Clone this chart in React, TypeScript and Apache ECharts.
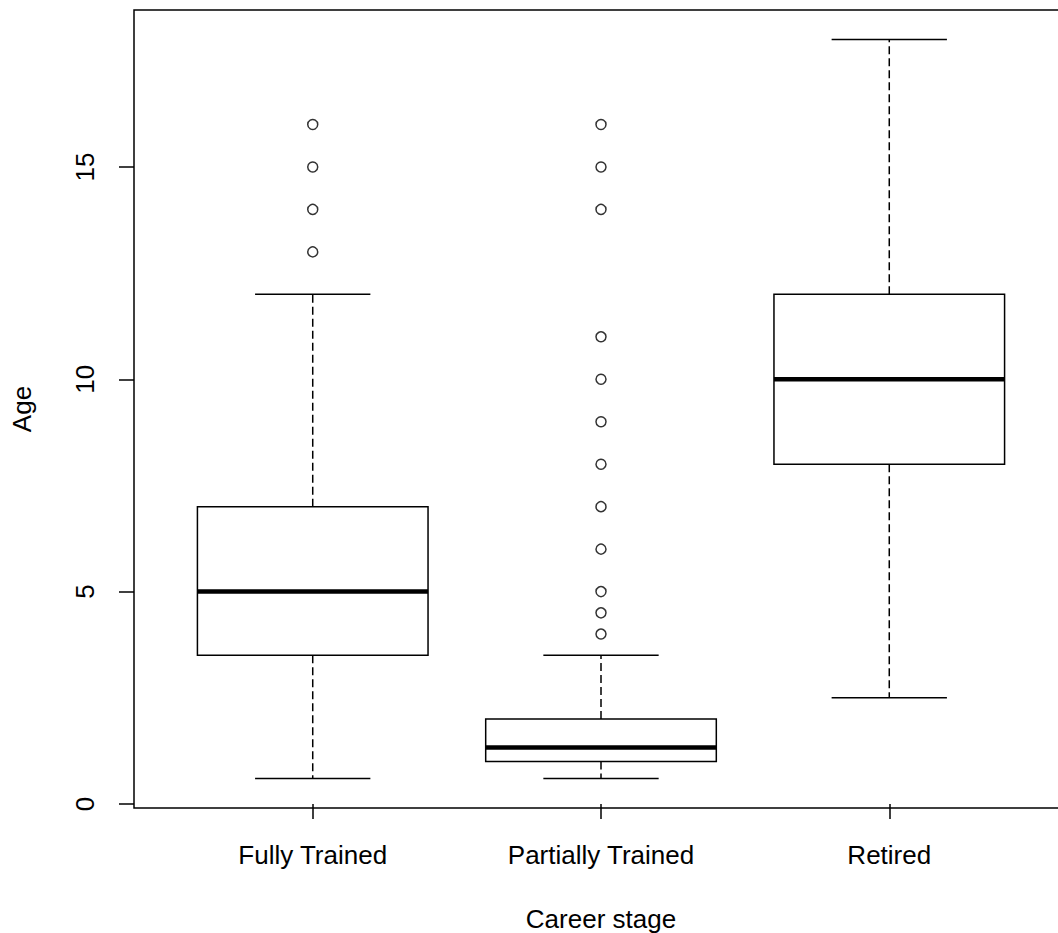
import React, { useEffect, useRef } from "react";
import * as echarts from "echarts";

const categories = ["Fully Trained", "Partially Trained", "Retired"];
// [lower whisker, Q1, median, Q3, upper whisker]
const fullyTrainedStats = [0.6, 3.5, 5, 7, 12];
const partiallyTrainedStats = [0.6, 1, 1.33, 2, 3.5];
const retiredStats = [2.5, 8, 10, 12, 18];
const fullyTrainedOutliers = [13, 14, 15, 16];
const partiallyTrainedOutliers = [4, 4.5, 5, 6, 7, 8, 9, 10, 11, 14, 15, 16];
const retiredOutliers: number[] = [];
const yTicks = [0, 5, 10, 15];

const FONT = "'Liberation Sans', Arial, sans-serif";

export default function App() {
  const ref = useRef<HTMLDivElement>(null);
  useEffect(() => {
    if (!ref.current) return;
    const chart = echarts.init(ref.current, null, { renderer: "svg" });
    const allStats = [fullyTrainedStats, partiallyTrainedStats, retiredStats];
    const allOutliers = [fullyTrainedOutliers, partiallyTrainedOutliers, retiredOutliers];
    const boxData = allStats.map((s, i) => [i + 1, ...s]);
    const outlierData: number[][] = [];
    allOutliers.forEach((arr, i) => arr.forEach((v) => outlierData.push([i + 1, v])));

    const lw = 1.5;
    const renderItem = (params: any, api: any) => {
      const x = api.value(0);
      const low = api.value(1);
      const q1 = api.value(2);
      const med = api.value(3);
      const q3 = api.value(4);
      const high = api.value(5);
      const hw = 0.4;
      const cw = 0.2;
      const tl = api.coord([x - hw, q3]);
      const br = api.coord([x + hw, q1]);
      const c = (xx: number, yy: number) => api.coord([xx, yy]);
      const line = (a: number[], b: number[], extra: any = {}) => ({
        type: "line",
        shape: { x1: a[0], y1: a[1], x2: b[0], y2: b[1] },
        style: { stroke: "#000", lineWidth: lw, ...extra },
      });
      return {
        type: "group",
        children: [
          line(c(x, q3), c(x, high), { lineDash: [8, 4] }),
          line(c(x, q1), c(x, low), { lineDash: [8, 4] }),
          line(c(x - cw, high), c(x + cw, high)),
          line(c(x - cw, low), c(x + cw, low)),
          {
            type: "rect",
            shape: { x: tl[0], y: tl[1], width: br[0] - tl[0], height: br[1] - tl[1] },
            style: { fill: "#fff", stroke: "#000", lineWidth: lw },
          },
          line(c(x - hw, med), c(x + hw, med), { lineWidth: 4.5 }),
        ],
      };
    };

    chart.setOption({
      animation: false,
      backgroundColor: "#fff",
      grid: {
        left: 134,
        width: 934,
        top: 10,
        height: 798,
        outerBoundsMode: "none",
        containLabel: false,
        show: true,
        borderColor: "#000",
        borderWidth: 1.5,
        backgroundColor: "transparent",
      },
      xAxis: {
        type: "value",
        min: 0.38,
        max: 3.62,
        name: "Career stage",
        nameLocation: "middle",
        nameGap: 98,
        nameTextStyle: { fontFamily: FONT, fontSize: 26, color: "#000", lineHeight: 26 },
        axisLine: { show: false },
        splitLine: { show: false },
        axisTick: { show: true, customValues: [1, 2, 3], length: 15, lineStyle: { color: "#000", width: 1.5 } },
        axisLabel: {
          customValues: [1, 2, 3],
          formatter: (v: number) => categories[Math.round(v) - 1] ?? "",
          fontFamily: FONT,
          fontSize: 26,
          lineHeight: 26,
          color: "#000",
          margin: 34,
        },
      },
      yAxis: {
        type: "value",
        min: -0.096,
        max: 18.696,
        name: "Age",
        nameLocation: "middle",
        nameGap: 99,
        nameRotate: 90,
        nameTextStyle: { fontFamily: FONT, fontSize: 26, color: "#000", lineHeight: 26 },
        axisLine: { show: false },
        splitLine: { show: false },
        axisTick: { show: true, customValues: yTicks, length: 15, lineStyle: { color: "#000", width: 1.5 } },
        axisLabel: {
          customValues: yTicks,
          rotate: 90,
          fontFamily: FONT,
          fontSize: 26,
          lineHeight: 26,
          color: "#000",
          margin: 36,
        },
      },
      series: [
        {
          type: "custom",
          renderItem,
          data: boxData,
          encode: { x: 0, y: [1, 2, 3, 4, 5] },
          clip: false,
          z: 2,
        },
        {
          type: "scatter",
          data: outlierData,
          symbol: "circle",
          symbolSize: 10,
          itemStyle: { color: "#fff", borderColor: "#000", borderWidth: 1.5 },
          z: 3,
        },
      ],
    });
    return () => chart.dispose();
  }, []);
  return (
    <div
      ref={ref}
      style={{ position: "fixed", left: 0, top: 0, width: 1058, height: 933, background: "#fff" }}
    />
  );
}
